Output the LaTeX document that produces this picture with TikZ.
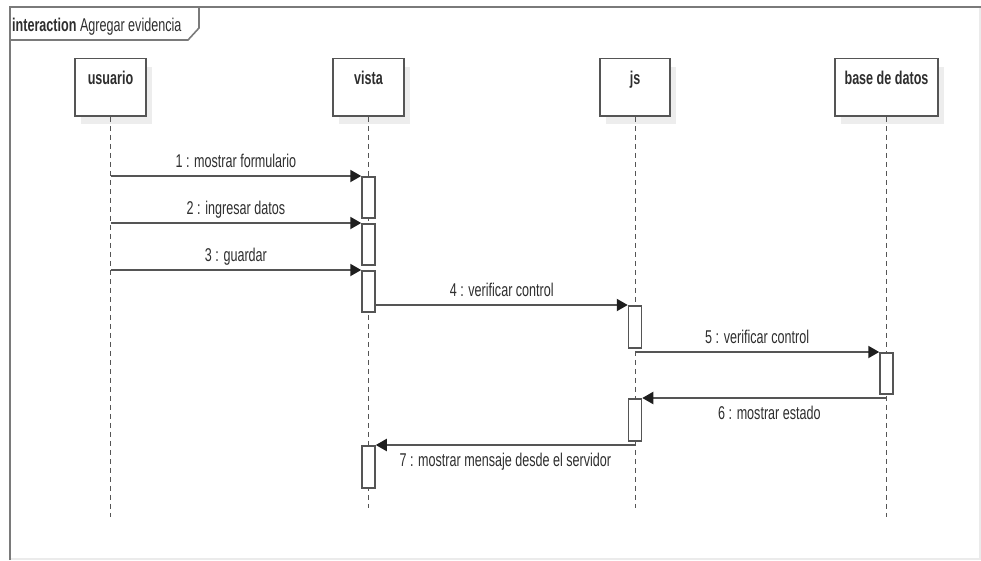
\documentclass[tikz,border=0pt]{standalone}
\usepackage{fontspec}
\setmainfont[FakeStretch=0.68]{Liberation Sans}
\usetikzlibrary{arrows.meta,shadows}

\definecolor{ink}{HTML}{2E2E2E}
\definecolor{edge}{HTML}{555555}
\definecolor{tipc}{HTML}{1E1E1E}
\definecolor{framec}{HTML}{7A7A7A}

\tikzset{
  lifebox/.style={draw=edge, line width=1.6pt, fill=white, minimum height=57.5pt,
    inner sep=0pt, drop shadow={shadow xshift=6pt, shadow yshift=-8pt, fill=black!7, opacity=1}},
  lifename/.style={anchor=base, font=\fontsize{18.5}{21}\selectfont\bfseries, text=ink, inner sep=0pt},
  lifeline/.style={draw=edge, line width=1pt, dash pattern=on 5pt off 4pt},
  actbox/.style={draw=edge, line width=1.5pt, fill=white, minimum width=13pt, inner sep=0pt},
  msg/.style={draw=edge, line width=2pt, -{Triangle[length=11pt,width=12pt,color=tipc]}},
  msglabel/.style={anchor=base, font=\fontsize{18.5}{21}\selectfont, text=ink, inner sep=0pt},
}

\begin{document}
\begin{tikzpicture}[x=1pt, y=-1pt]
\useasboundingbox (0,0) rectangle (981,560);

% interaction frame
\draw[black!8, line width=2pt] (980,7) -- (980,559) -- (9.5,559);
\draw[framec, line width=2pt] (9.5,560) -- (9.5,7) -- (981,7);
\draw[framec, line width=1.6pt] (9.5,40) -- (188,40) -- (199,28) -- (199,7);
\node[anchor=base west, inner sep=0pt, text=ink, font=\fontsize{18.5}{21}\selectfont]
  (title) at (12,31) {\textbf{interaction} Agregar evidencia};

% lifeline heads
\node[lifebox, minimum width=71pt]  (usuario) at (110.5,87.25) {};
\node[lifebox, minimum width=71pt]  (vista)   at (368.5,87.25) {};
\node[lifebox, minimum width=70pt]  (js)      at (635,87.25) {};
\node[lifebox, minimum width=103pt] (base)    at (886.5,87.25) {};

\node[lifename] (usuarioname) at (110.5,84) {usuario};
\node[lifename] (vistaname)   at (368.5,84) {vista};
\node[lifename] (jsname)      at (635,84)   {js};
\node[lifename] (basename)    at (886.5,84) {base de datos};

% lifeline ends
\coordinate (usuarioend) at (110.5,517);
\coordinate (vistaend)   at (368.5,508);
\coordinate (jsend)      at (635,508);
\coordinate (baseend)    at (886.5,517);

\draw[lifeline] (usuario.south) -- (usuarioend);
\draw[lifeline] (vista.south)   -- (vistaend);
\draw[lifeline] (js.south)      -- (jsend);
\draw[lifeline] (base.south)    -- (baseend);

% activation bars
\node[actbox, minimum height=41pt, anchor=north] (a1) at (368.5,176) {};
\node[actbox, minimum height=41pt, anchor=north] (a2) at (368.5,223) {};
\node[actbox, minimum height=41pt, anchor=north] (a3) at (368.5,270) {};
\node[actbox, minimum height=42pt, anchor=north] (j1) at (635,305) {};
\node[actbox, minimum height=41pt, anchor=north] (b1) at (886.5,352) {};
\node[actbox, minimum height=42pt, anchor=north] (j2) at (635,398) {};
\node[actbox, minimum height=42pt, anchor=north] (a4) at (368.5,445) {};

% messages
\draw[msg] (usuario.south |- a1.north west) -- node[msglabel, yshift=8.5pt] (m1) {1 : mostrar formulario} (a1.north west);
\draw[msg] (usuario.south |- a2.north west) -- node[msglabel, yshift=8.5pt] (m2) {2 : ingresar datos} (a2.north west);
\draw[msg] (usuario.south |- a3.north west) -- node[msglabel, yshift=8.5pt] (m3) {3 : guardar} (a3.north west);
\draw[msg] (a3.east |- j1.north west) -- node[msglabel, yshift=8.5pt] (m4) {4 : verificar control} (j1.north west);
\draw[msg] (js.south |- b1.north west) -- node[msglabel, yshift=8.5pt] (m5) {5 : verificar control} (b1.north west);
\draw[msg] (base.south |- j2.north east) -- node[msglabel, yshift=-21.5pt, xshift=5pt] (m6) {6 : mostrar estado} (j2.north east);
\draw[msg] (js.south |- a4.north east) -- node[msglabel, yshift=-21.5pt] (m7) {7 : mostrar mensaje desde el servidor} (a4.north east);
\end{tikzpicture}
\end{document}
